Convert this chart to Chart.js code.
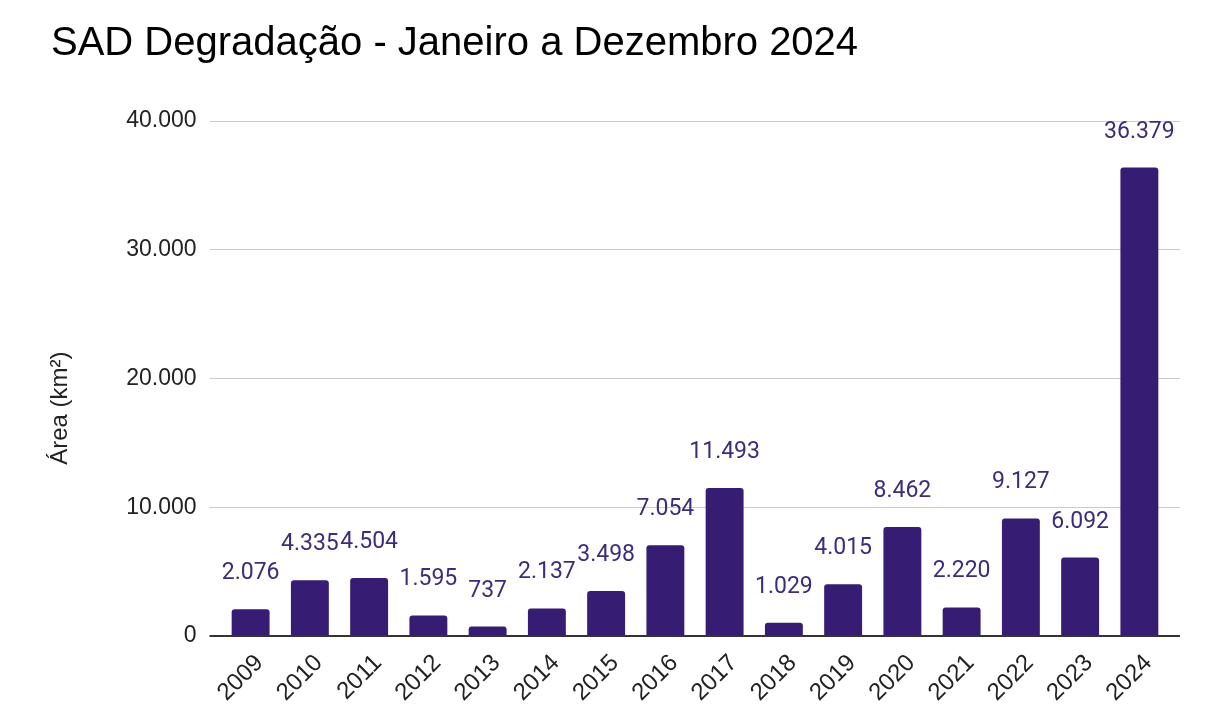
<!DOCTYPE html>
<html lang="pt-BR">
<head>
<meta charset="utf-8">
<title>SAD Degradação - Janeiro a Dezembro 2024</title>
<script src="https://cdn.jsdelivr.net/npm/chart.js@4.4.1/dist/chart.umd.min.js"></script>
<style>
  html, body { margin: 0; padding: 0; background: #ffffff; }
  #wrap { width: 1207px; height: 723px; }
</style>
</head>
<body>
<div id="wrap"><canvas id="c" width="1207" height="723"></canvas></div>
<script>
const categories = ['2009','2010','2011','2012','2013','2014','2015','2016','2017','2018','2019','2020','2021','2022','2023','2024'];
const areaKm2 = [2076, 4335, 4504, 1595, 737, 2137, 3498, 7054, 11493, 1029, 4015, 8462, 2220, 9127, 6092, 36379];
const yTickValues = [0, 10000, 20000, 30000, 40000];
const chartTitle = 'SAD Degradação - Janeiro a Dezembro 2024';
const yAxisTitle = 'Área (km²)';

function fmt(n) {
  return String(Math.round(n)).replace(/\B(?=(\d{3})+(?!\d))/g, '.');
}

const SANS = "'Liberation Sans', Arial, sans-serif";
const ROBOTO = "Roboto, 'Liberation Sans', sans-serif";
const BAR = '#361d73';
const LABEL = '#3b2d7c';

const gridColor = (ctx) => (ctx.tick && ctx.tick.value === 0) ? '#333333' : '#cccccc';
const gridWidth = (ctx) => (ctx.tick && ctx.tick.value === 0) ? 2 : 1;

const valueLabels = {
  id: 'valueLabels',
  afterDatasetsDraw(chart) {
    const ctx = chart.ctx;
    const meta = chart.getDatasetMeta(0);
    ctx.save();
    ctx.font = '23px ' + ROBOTO;
    ctx.fillStyle = LABEL;
    ctx.textAlign = 'center';
    ctx.textBaseline = 'alphabetic';
    meta.data.forEach((bar, i) => {
      ctx.fillText(fmt(areaKm2[i]), bar.x, bar.y - 30);
    });
    ctx.restore();
  }
};

const axisTitle = {
  id: 'axisTitle',
  afterDraw(chart) {
    const ctx = chart.ctx;
    const y = chart.scales.y;
    ctx.save();
    ctx.translate(60, y.getPixelForValue(17700));
    ctx.rotate(-Math.PI / 2);
    ctx.font = '24px ' + SANS;
    ctx.fillStyle = '#222222';
    ctx.textAlign = 'center';
    ctx.textBaseline = 'middle';
    ctx.fillText(yAxisTitle, 0, 0);
    ctx.restore();
  }
};

new Chart(document.getElementById('c'), {
  type: 'bar',
  data: {
    labels: categories,
    datasets: [{
      label: yAxisTitle,
      data: areaKm2,
      backgroundColor: BAR,
      borderRadius: 3,
      borderSkipped: 'start',
      barPercentage: 0.8,
      categoryPercentage: 0.8
    }]
  },
  options: {
    responsive: false,
    animation: false,
    devicePixelRatio: 1,
    layout: { padding: { left: 51, right: 0, top: 0, bottom: 0 } },
    plugins: {
      legend: { display: false },
      tooltip: { enabled: false },
      title: {
        display: true,
        text: chartTitle,
        align: 'start',
        color: '#000000',
        font: { family: SANS, size: 40, weight: 'normal', lineHeight: 1.2 },
        padding: { top: 20, bottom: 53 }
      }
    },
    scales: {
      x: {
        grid: { display: false, drawTicks: false },
        border: { display: false },
        ticks: {
          color: '#222222',
          font: { family: SANS, size: 24 },
          minRotation: 45,
          maxRotation: 45,
          padding: 13,
          labelOffset: 9,
          autoSkip: false
        },
        afterFit(scale) { scale.height = 87; }
      },
      y: {
        position: 'left',
        min: 0,
        max: 40000,
        afterBuildTicks(scale) { scale.ticks = yTickValues.map(v => ({ value: v })); },
        grid: { color: gridColor, lineWidth: gridWidth, drawTicks: true, tickLength: 11.5 },
        border: { display: false },
        ticks: {
          color: '#222222',
          font: { family: SANS, size: 23 },
          padding: 13,
          callback: (v) => fmt(v)
        },
        afterFit(scale) { scale.width = 221 - 51; }
      },
      y2: {
        position: 'right',
        min: 0,
        max: 40000,
        afterBuildTicks(scale) { scale.ticks = yTickValues.map(v => ({ value: v })); },
        grid: { color: gridColor, lineWidth: gridWidth, drawOnChartArea: false, drawTicks: true, tickLength: 11 },
        border: { display: false },
        ticks: { display: false },
        afterFit(scale) { scale.width = 1207 - 1169; }
      }
    }
  },
  plugins: [valueLabels, axisTitle]
});
</script>
</body>
</html>
